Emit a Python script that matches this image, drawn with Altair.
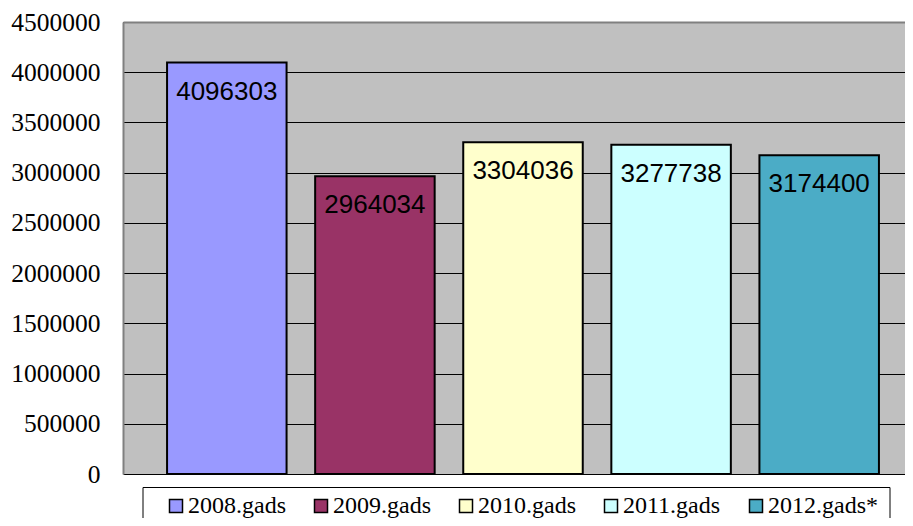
import altair as alt
import pandas as pd

years = ["2008.gads", "2009.gads", "2010.gads", "2011.gads", "2012.gads*"]
values = [4096303, 2964034, 3304036, 3277738, 3174400]
colors = ["#9999FF", "#993366", "#FFFFCC", "#CCFFFF", "#4BACC6"]
y_ticks = [0, 500000, 1000000, 1500000, 2000000, 2500000, 3000000, 3500000, 4000000, 4500000]

df = pd.DataFrame({"year": years, "value": values})

x_enc = alt.X("year:N", sort=years,
              scale=alt.Scale(range=[0, 800], paddingInner=0.193, paddingOuter=0.2975),
              axis=alt.Axis(orient="top", labels=False, ticks=False, title=None,
                            domain=True, domainColor="#808080", domainWidth=2, grid=False))
y_enc = alt.Y("value:Q",
              scale=alt.Scale(domain=[0, 4500000], nice=False, zero=True),
              axis=alt.Axis(values=y_ticks, title=None, ticks=False,
                            domain=True, domainColor="#808080", domainWidth=2,
                            grid=True, gridColor="#000000", gridWidth=1, gridOpacity=1,
                            labelFont="Liberation Serif", labelFontSize=25.5,
                            labelColor="#000000", labelPadding=23, format="d"))

bars = alt.Chart(df).mark_bar(stroke="#000000", strokeWidth=2, opacity=1).encode(
    x=x_enc,
    y=y_enc,
    color=alt.Color("year:N", sort=years,
                    scale=alt.Scale(domain=years, range=colors),
                    legend=alt.Legend(orient="none", legendX=41, legendY=472,
                                      direction="horizontal", title=None,
                                      symbolType="square", symbolSize=169,
                                      symbolStrokeColor="#000000", symbolStrokeWidth=1.5,
                                      symbolOpacity=1,
                                      labelFont="Liberation Serif", labelFontSize=24,
                                      labelColor="#000000", labelOffset=0,
                                      columnPadding=23, padding=0, labelLimit=300)),
)

labels = alt.Chart(df).mark_text(font="Liberation Sans", fontSize=26, color="#000000",
                                 baseline="alphabetic", dy=37).encode(
    x=x_enc,
    y=y_enc,
    text=alt.Text("value:Q", format="d"),
)

box = alt.Chart(pd.DataFrame({"k": [0]})).mark_rect(
    fillOpacity=0, stroke="#000000", strokeWidth=1).encode(
    x=alt.value(20), x2=alt.value(767), y=alt.value(465.5), y2=alt.value(520))

chart = alt.layer(bars, labels, box).properties(
    width=782, height=452,
    autosize=alt.AutoSizeParams(type="none"),
    padding={"left": 115, "top": 14, "right": 0, "bottom": 44},
    background="#FFFFFF",
).configure_view(
    fill="#C0C0C0", stroke="transparent", strokeWidth=0
).configure_axis(
    labelFont="Liberation Serif", labelFontSize=25.5, labelColor="#000000"
)

chart.save("out.html", embed_options={"renderer": "svg", "actions": False})
